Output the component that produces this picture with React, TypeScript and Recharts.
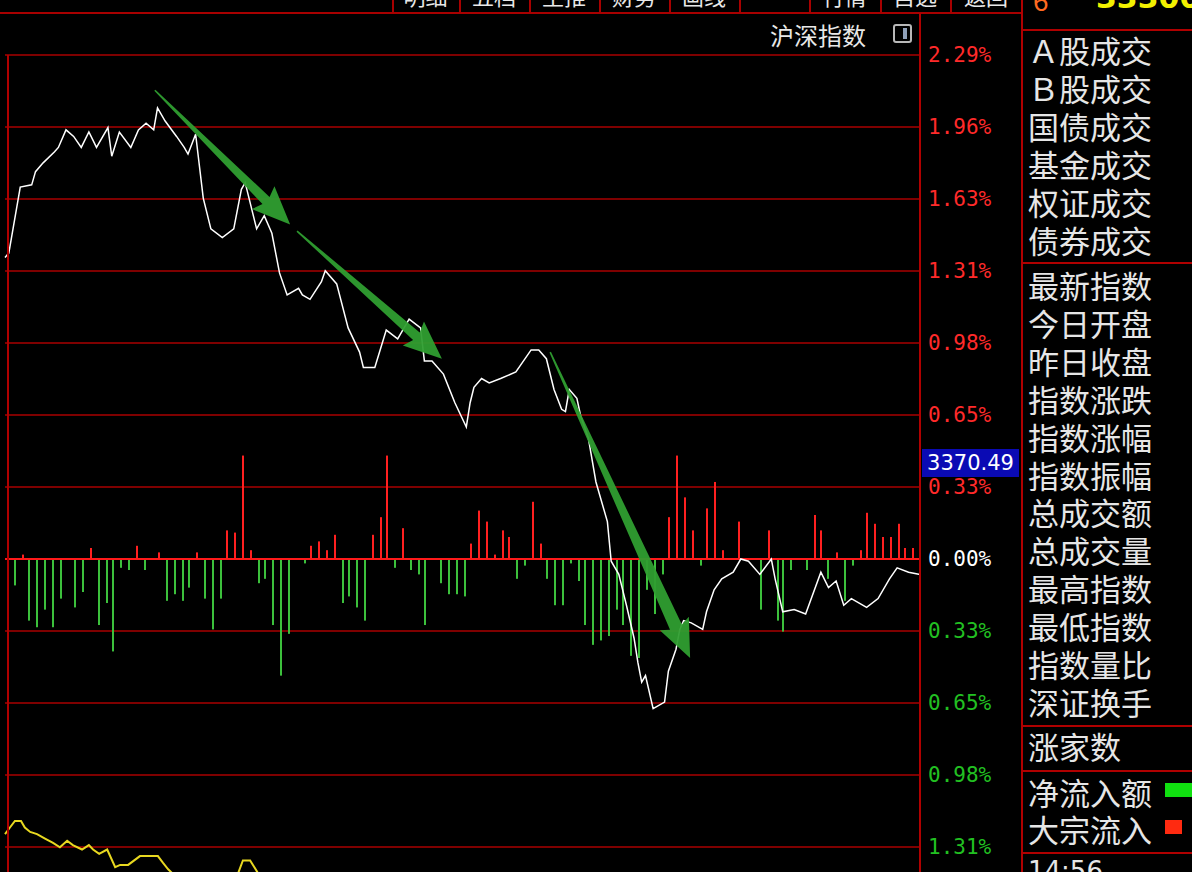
import React from "react";
import {
  ComposedChart,
  Line,
  Bar,
  XAxis,
  YAxis,
  CartesianGrid,
  ReferenceLine,
} from "recharts";

// 沪深指数 intraday, minutes since open (0..240) vs % change
const priceT = [
  0, 1, 4, 7, 8, 10, 13, 14, 16, 18, 20, 22, 24, 27, 28, 30, 33, 35, 37, 39, 40,
  42, 45, 47, 48, 50, 52, 54, 57, 60, 62, 63, 64, 66, 68, 70, 72, 74, 77, 78, 80,
  83, 84, 87, 90, 93, 94, 97, 100, 103, 106, 109, 110, 112, 115, 118, 121, 122,
  123, 125, 127, 130, 134, 138, 140, 142, 144, 146, 147, 148, 150, 151, 153, 155,
  158, 159, 161, 163, 165, 166, 167, 168, 170, 173, 174, 176, 177, 178, 180, 183,
  184, 186, 188, 191, 193, 195, 198, 201, 202, 204, 207, 210, 214, 216, 218, 220,
  222, 226, 229, 232, 234, 237, 240,
];
const priceV = [
  1.37, 1.39, 1.69, 1.7, 1.76, 1.8, 1.85, 1.87, 1.95, 1.92, 1.87, 1.94, 1.87,
  1.96, 1.83, 1.94, 1.87, 1.95, 1.98, 1.95, 2.05, 1.99, 1.92, 1.87, 1.84, 1.93,
  1.64, 1.5, 1.46, 1.5, 1.68, 1.71, 1.64, 1.5, 1.56, 1.48, 1.3, 1.2, 1.23, 1.2,
  1.18, 1.26, 1.31, 1.25, 1.05, 0.94, 0.87, 0.87, 1.04, 1.0, 1.09, 1.05, 0.9, 0.9,
  0.84, 0.71, 0.6, 0.71, 0.78, 0.82, 0.8, 0.82, 0.85, 0.95, 0.95, 0.91, 0.77,
  0.68, 0.67, 0.77, 0.73, 0.65, 0.55, 0.35, 0.17, -0.01, -0.07, -0.21, -0.36,
  -0.47, -0.56, -0.53, -0.68, -0.65, -0.51, -0.41, -0.32, -0.28, -0.29, -0.32,
  -0.24, -0.14, -0.09, -0.06, 0.0, -0.01, -0.07, 0.0, -0.09, -0.24, -0.23, -0.25,
  -0.06, -0.13, -0.1, -0.21, -0.18, -0.22, -0.18, -0.09, -0.04, -0.06, -0.07,
];

// money flow bars (red up / green down)
const flowT = [
  2.6, 4.7, 6.3, 8.4, 10.5, 12.6, 14.7, 18.4, 20.5, 22.6, 24.7, 26.8, 28.3, 30.4,
  32.5, 34.6, 36.7, 40.4, 42.5, 44.6, 46.7, 48.3, 50.4, 52.5, 54.6, 56.7, 58.2,
  60.3, 62.4, 64.5, 66.6, 68.2, 70.3, 72.4, 74.5, 78.7, 80.3, 82.4, 84.5, 86.6,
  88.7, 90.2, 92.3, 94.4, 96.5, 98.6, 100.2, 102.3, 104.4, 106.5, 108.6, 110.2,
  114.4, 116.5, 118.6, 120.7, 122.2, 124.3, 126.4, 128.5, 130.6, 132.2, 134.3,
  136.4, 138.5, 140.6, 142.2, 144.3, 146.4, 148.5, 150.6, 152.1, 154.2, 156.3,
  158.4, 160.5, 162.1, 164.2, 166.3, 168.4, 170.5, 172.6, 174.2, 176.3, 178.4,
  180.5, 182.6, 184.1, 186.2, 188.3, 192.5, 198.3, 200.4, 202.8, 204.1, 206.2,
  210.4, 212.5, 214.0, 215.9, 218.2, 220.3, 222.4, 224.5, 226.1, 228.2, 230.3,
  232.4, 234.5, 236.1, 238.2,
];
const flowV = [
  -0.12, 0.02, -0.28, -0.31, -0.23, -0.31, -0.18, -0.22, -0.15, 0.05, -0.3, -0.2,
  -0.42, -0.04, -0.05, 0.06, -0.05, 0.03, -0.19, -0.16, -0.19, -0.13, 0.03, -0.18,
  -0.32, -0.18, 0.13, 0.12, 0.47, 0.04, -0.11, -0.09, -0.3, -0.53, -0.34, -0.02,
  0.06, 0.08, 0.04, 0.11, -0.2, -0.17, -0.22, -0.28, 0.11, 0.19, 0.47, -0.04, 0.14,
  -0.05, -0.07, -0.3, -0.11, -0.16, -0.16, -0.17, 0.07, 0.22, 0.17, 0.02, 0.13,
  0.1, -0.09, -0.03, 0.26, 0.07, -0.09, -0.21, -0.21, -0.02, -0.1, -0.3, -0.39,
  -0.37, -0.35, -0.23, -0.3, -0.44, -0.45, -0.14, -0.25, -0.07, 0.19, 0.47, 0.28,
  0.13, -0.03, 0.23, 0.35, 0.04, 0.17, -0.23, 0.13, -0.28, -0.33, -0.05, -0.05,
  0.2, 0.13, -0.09, 0.03, -0.19, -0.03, 0.04, 0.21, 0.16, 0.1, 0.1, 0.16, 0.05,
  0.05,
];

// lower yellow indicator (mostly below the visible area)
const yellowT = [
  0, 1.3, 2.6, 4.2, 5.2, 6.6, 8.4, 10.5, 12.6, 14.4, 16.3, 17.8, 20.2, 22.0, 23.1,
  24.7, 26.8, 28.9, 30.2, 32.3, 35.4, 37.2, 40.1, 41.4, 42.8, 44.6, 51.1, 59.0,
  61.1, 62.4, 64.3, 66.1, 67.7,
];
const yellowV = [
  -1.25, -1.22, -1.19, -1.19, -1.22, -1.24, -1.25, -1.27, -1.29, -1.31, -1.28,
  -1.3, -1.32, -1.3, -1.32, -1.34, -1.32, -1.4, -1.39, -1.39, -1.35, -1.35, -1.35,
  -1.38, -1.41, -1.44, -1.51, -1.49, -1.43, -1.37, -1.37, -1.42, -1.47,
];

// hand-drawn green arrows, in data units [t, %]
const arrows = [
  { from: [39.3, 2.13], to: [74.8, 1.52], shaft: 5 },
  { from: [76.6, 1.49], to: [114.6, 0.91], shaft: 5 },
  { from: [143.0, 0.94], to: [179.7, -0.45], shaft: 6.5 },
];

const STEP = 2.29 / 7;
const tickSteps = [-5, -4, -3, -2, -1, 0, 1, 2, 3, 4, 5, 6, 7];
const tickLabels = [
  "1.63%", "1.31%", "0.98%", "0.65%", "0.33%", "0.00%", "0.33%", "0.65%",
  "0.98%", "1.31%", "1.63%", "1.96%", "2.29%",
];
const yTicks = tickSteps.map((k) => k * STEP);

const panelTop = ["Ａ股成交", "Ｂ股成交", "国债成交", "基金成交", "权证成交", "债券成交"];
const panelMid = [
  "最新指数", "今日开盘", "昨日收盘", "指数涨跌", "指数涨幅", "指数振幅",
  "总成交额", "总成交量", "最高指数", "最低指数", "指数量比", "深证换手",
];
const tabs = ["明细", "五档", "主推", "财务", "画线", "", "行情", "自选", "返回"];
const tabEdges = [392, 459, 529, 599, 669, 739, 809, 880, 950, 1022];

const rowMap = new Map<number, any>();
const put = (t: number, key: string, v: number) => {
  const r = rowMap.get(t) ?? { t };
  r[key] = v;
  rowMap.set(t, r);
};
priceT.forEach((t, i) => put(t, "price", priceV[i]));
flowT.forEach((t, i) => put(t, "flow", flowV[i]));
yellowT.forEach((t, i) => put(t, "yellow", yellowV[i]));
const table = [...rowMap.values()].sort((a, b) => a.t - b.t);

const RED = "#a80000";
const CJK = '"Noto Sans CJK SC", sans-serif';

const makeArrow = (shaft: number) => (p: any) => {
  const { x1, y1, x2, y2 } = p;
  const dx = x2 - x1;
  const dy = y2 - y1;
  const L = Math.hypot(dx, dy);
  const ux = dx / L;
  const uy = dy / L;
  const nx = -uy;
  const ny = ux;
  const head = 34;
  const hw = 16;
  const bx = x2 - ux * head;
  const by = y2 - uy * head;
  const pts = [
    [x1 + nx * 0.8, y1 + ny * 0.8],
    [bx + nx * shaft, by + ny * shaft],
    [bx - ux * 4 + nx * hw, by - uy * 4 + ny * hw],
    [x2, y2],
    [bx - ux * 4 - nx * hw, by - uy * 4 - ny * hw],
    [bx - nx * shaft, by - ny * shaft],
    [x1 - nx * 0.8, y1 - ny * 0.8],
  ];
  return (
    <polygon
      points={pts.map((q) => q.join(",")).join(" ")}
      fill="#2f9e30"
      fillOpacity={0.95}
    />
  );
};

// thin crisp flow bar, red above zero, green below
const FlowBar = (p: any) => {
  const v = p.payload?.flow;
  if (v == null || !p.height) return null;
  const top = Math.min(p.y, p.y + p.height);
  const h = Math.abs(p.height);
  const cx = Math.round(p.x + p.width / 2);
  return (
    <rect
      x={cx - 1}
      y={top}
      width={2}
      height={h}
      fill={v > 0 ? "#ff2020" : "#3cc03c"}
    />
  );
};

const PctTick = (props: any) => {
  const { x, y, payload, index } = props;
  const v = payload.value;
  const color = v > 0.001 ? "#ff2a2a" : v < -0.001 ? "#22c022" : "#ffffff";
  return (
    <text
      x={x}
      y={y}
      dy={7}
      textAnchor="start"
      fill={color}
      fontSize={21}
      fontFamily='"DejaVu Sans Mono", monospace'
    >
      {tickLabels[index] ?? ""}
    </text>
  );
};

const abs = (s: React.CSSProperties): React.CSSProperties => ({ position: "absolute", ...s });

const panelText: React.CSSProperties = {
  fontSize: 31,
  lineHeight: "38px",
  color: "#e6e6e6",
  whiteSpace: "nowrap",
};

export default function App() {
  return (
    <div
      style={abs({
        left: 0,
        top: 0,
        width: 1192,
        height: 872,
        background: "#000",
        overflow: "hidden",
        fontFamily: CJK,
      })}
    >
      <div style={abs({ left: 0, top: 0 })}>
        <ComposedChart
          width={1022}
          height={920}
          data={table}
          margin={{ top: 55, right: 0, bottom: 1, left: 5 }}
        >
          <XAxis dataKey="t" type="number" domain={[0, 240]} hide />
          <YAxis
            orientation="right"
            type="number"
            domain={[-5 * STEP, 7 * STEP]}
            ticks={yTicks}
            allowDataOverflow
            width={102}
            axisLine={{ stroke: "#b00000", strokeWidth: 2 }}
            tickLine={false}
            tickSize={6}
            tickMargin={2}
            tick={<PctTick />}
            interval={0}
          />
          <CartesianGrid vertical={false} stroke={RED} strokeWidth={1.5} />
          <ReferenceLine y={0} stroke="#ff1a1a" strokeWidth={2} />
          <Bar
            dataKey="flow"
            barSize={2}
            shape={<FlowBar />}
            isAnimationActive={false}
          />
          <Line
            dataKey="yellow"
            stroke="#e8d820"
            strokeWidth={2}
            dot={false}
            connectNulls
            isAnimationActive={false}
          />
          <Line
            dataKey="price"
            stroke="#ffffff"
            strokeWidth={1.5}
            dot={false}
            connectNulls
            isAnimationActive={false}
          />
          {arrows.map((a, i) => (
            <ReferenceLine
              key={i}
              segment={[
                { x: a.from[0], y: a.from[1] },
                { x: a.to[0], y: a.to[1] },
              ]}
              ifOverflow="visible"
              shape={makeArrow(a.shaft)}
            />
          ))}
        </ComposedChart>
      </div>

      {/* frame lines */}
      <div style={abs({ left: 0, top: 12, width: 1022, height: 2, background: RED })} />
      <div style={abs({ left: 7, top: 55, width: 2, height: 817, background: "#b00000" })} />
      <div style={abs({ left: 919, top: 13, width: 2, height: 43, background: "#b00000" })} />
      <div style={abs({ left: 1021, top: 0, width: 2, height: 872, background: "#b00000" })} />
      {tabEdges.slice(0, -1).map((x, i) => (
        <div key={"s" + i} style={abs({ left: x, top: 0, width: 2, height: 13, background: RED })} />
      ))}
      {tabs.map((t, i) => (
        <div
          key={"t" + i}
          style={abs({
            left: tabEdges[i],
            width: tabEdges[i + 1] - tabEdges[i],
            top: -18,
            textAlign: "center",
            color: "#e8e8e8",
            fontSize: 22,
            lineHeight: "26px",
            overflow: "hidden",
          })}
        >
          {t}
        </div>
      ))}

      {/* 沪深指数 label */}
      <div style={abs({ left: 770, top: 20, color: "#e8e8e8", fontSize: 24, lineHeight: "30px" })}>
        沪深指数
      </div>
      <div
        style={abs({
          left: 893,
          top: 24,
          width: 15,
          height: 15,
          border: "2px solid #b8b8b8",
          borderRadius: 3,
        })}
      >
        <div style={abs({ left: 8, top: 2, width: 4, height: 11, background: "#8fa0b8" })} />
      </div>

      {/* last price tag */}
      <div
        style={abs({
          left: 922,
          top: 449,
          width: 97,
          height: 28,
          background: "#0a0ab4",
          color: "#fff",
          fontSize: 21,
          lineHeight: "28px",
          textAlign: "center",
          fontFamily: '"DejaVu Sans", sans-serif',
        })}
      >
        3370.49
      </div>

      {/* right info panel */}
      <div style={abs({ left: 1033, top: -16, color: "#ff6a20", fontSize: 28, lineHeight: "30px" })}>6</div>
      <div
        style={abs({
          left: 1096,
          top: -17,
          color: "#f2f000",
          fontSize: 30,
          fontWeight: 700,
          lineHeight: "30px",
          fontFamily: '"DejaVu Sans", sans-serif',
        })}
      >
        333000
      </div>
      {[29, 262, 725, 770, 852].map((y) => (
        <div key={"h" + y} style={abs({ left: 1022, top: y, width: 170, height: 2, background: "#b00000" })} />
      ))}
      {panelTop.map((s, i) => (
        <div key={s} style={abs({ left: 1028, top: 31 + i * 38, ...panelText })}>
          {s}
        </div>
      ))}
      {panelMid.map((s, i) => (
        <div key={s} style={abs({ left: 1028, top: 266 + i * 37.9, ...panelText })}>
          {s}
        </div>
      ))}
      <div style={abs({ left: 1028, top: 727, ...panelText })}>涨家数</div>
      <div style={abs({ left: 1028, top: 773, ...panelText })}>净流入额</div>
      <div style={abs({ left: 1028, top: 810, ...panelText })}>大宗流入</div>
      <div style={abs({ left: 1165, top: 783, width: 27, height: 14, background: "#10e010" })} />
      <div style={abs({ left: 1165, top: 820, width: 17, height: 14, background: "#ff2a10" })} />
      <div
        style={abs({
          left: 1028,
          top: 856,
          fontSize: 26,
          lineHeight: "30px",
          color: "#e6e6e6",
          fontFamily: '"DejaVu Sans", sans-serif',
        })}
      >
        14:56
      </div>
    </div>
  );
}
